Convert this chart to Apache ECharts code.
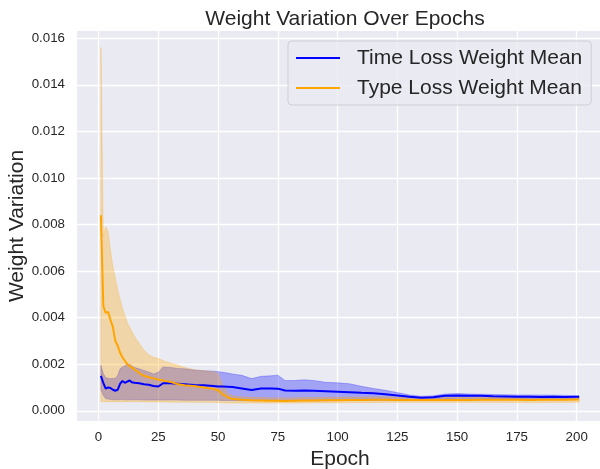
<!DOCTYPE html>
<html>
<head>
<meta charset="utf-8">
<script src="https://cdn.jsdelivr.net/npm/echarts@6/dist/echarts.min.js"></script>
<style>html,body{margin:0;padding:0;background:#fff;}#c{width:600px;height:469px;}</style>
</head>
<body>
<div id="c"></div>
<script>
const epochs = [1,2,3,4,5,6,7,8,9,10,11,12,13,14,15,17,19,21,23,25,27,30,33,36,40,44,48,50,52,54,56,60,64,68,72,75,78,82,86,90,95,100,105,110,115,120,125,130,135,140,145,150,155,160,165,170,175,180,185,190,195,201];

const timeMean = [0.00150,0.00120,0.00095,0.00100,0.00098,0.00090,0.00086,0.00090,0.00115,0.00128,0.00120,0.00125,0.00130,0.00122,0.00120,
0.00118,0.00114,0.00112,0.00106,0.00104,0.00118,
0.00118,0.00116,0.00114,
0.00111,0.00110,0.00106,
0.00104,0.00104,0.00103,0.00102,
0.00096,0.00089,0.00096,0.00096,
0.00095,0.00087,0.00086,0.00087,0.00086,
0.00084,0.00082,0.00080,0.00077,0.00075,0.00071,0.00066,0.00060,0.00056,0.00058,0.00064,0.00065,0.00064,0.00064,0.00062,0.00061,0.00060,0.00060,0.00059,0.00060,0.00059,
0.00060];

const timeUpper = [0.00195,0.00160,0.00142,0.00140,0.00138,0.00138,0.00140,0.00150,0.00180,0.00188,0.00192,0.00198,0.00200,0.00192,0.00186,
0.00180,0.00173,0.00166,0.00158,0.00165,0.00188,
0.00186,0.00182,0.00180,
0.00175,0.00172,0.00170,
0.00168,0.00165,0.00162,0.00158,
0.00152,0.00138,0.00148,0.00150,
0.00153,0.00130,0.00130,0.00133,0.00130,
0.00122,0.00120,0.00116,0.00105,0.00096,0.00088,0.00078,0.00068,0.00062,0.00064,0.00072,0.00074,0.00072,0.00071,0.00070,0.00069,0.00068,0.00068,0.00068,0.00067,0.00066,
0.00064];

const timeLower = [0.00090,0.00065,0.00052,0.00050,0.00048,0.00047,0.00047,0.00047,0.00048,0.00048,0.00047,0.00047,0.00047,0.00047,0.00047,
0.00047,0.00046,0.00046,0.00046,0.00046,0.00046,
0.00046,0.00046,0.00045,
0.00045,0.00045,0.00045,
0.00045,0.00044,0.00044,0.00044,
0.00043,0.00043,0.00043,0.00043,
0.00043,0.00043,0.00043,0.00043,0.00043,
0.00043,0.00044,0.00044,0.00044,0.00044,0.00045,0.00045,0.00046,0.00048,0.00050,0.00052,0.00053,0.00053,0.00053,0.00052,0.00052,0.00052,0.00052,0.00051,0.00052,0.00052,
0.00053];

const typeMean = [0.0084,0.0045,0.0042,0.00425,0.0039,0.0036,0.0030,0.0028,0.0025,0.0023,0.00215,0.0020,0.00192,0.00185,0.00178,
0.00162,0.00150,0.00144,0.00139,0.00134,0.00130,
0.00124,0.00115,0.00110,
0.00106,0.00100,0.00094,
0.00088,0.00070,0.00058,0.00050,
0.00047,0.00045,0.00044,0.00043,
0.00043,0.00042,0.00043,0.00044,0.00044,
0.00045,0.00045,0.00046,0.00046,0.00047,0.00047,0.00046,0.00046,0.00046,0.00046,0.00046,0.00046,0.00046,0.00047,0.00047,0.00047,0.00047,0.00046,0.00047,0.00047,0.00047,
0.00048];

const typeUpper = [0.0156,0.0075,0.0079,0.0077,0.0069,0.0062,0.0057,0.0052,0.0048,0.0044,0.0041,0.0038,0.0036,0.0034,0.0032,
0.0029,0.0026,0.0024,0.0023,0.00225,0.00215,
0.00205,0.00196,0.00186,
0.00176,0.00172,0.00168,
0.00160,0.00110,0.00075,0.00064,
0.00060,0.00058,0.00057,0.00056,
0.00056,0.00055,0.00056,0.00057,0.00057,
0.00058,0.00058,0.00059,0.00059,0.00060,0.00060,0.00059,0.00058,0.00058,0.00058,0.00058,0.00058,0.00058,0.00059,0.00059,0.00059,0.00058,0.00058,0.00058,0.00058,0.00058,
0.00058];

const typeLower = [0.00040,0.00039,0.00039,0.00039,0.00039,0.00039,0.00039,0.00039,0.00039,0.00039,0.00039,0.00039,0.00039,0.00039,0.00039,
0.00039,0.00039,0.00038,0.00038,0.00038,0.00038,
0.00037,0.00037,0.00037,
0.00036,0.00036,0.00036,
0.00035,0.00034,0.00033,0.00033,
0.00033,0.00033,0.00033,0.00033,
0.00033,0.00033,0.00033,0.00033,0.00034,
0.00034,0.00034,0.00035,0.00035,0.00035,0.00036,0.00036,0.00036,0.00036,0.00036,0.00036,0.00036,0.00036,0.00036,0.00036,0.00036,0.00035,0.00035,0.00035,0.00036,0.00036,
0.00036];

const xTicks = [0,25,50,75,100,125,150,175,200];
const yTicks = [0,0.002,0.004,0.006,0.008,0.010,0.012,0.014,0.016];

const FONT = 'Liberation Sans, Arial, Helvetica, sans-serif';
const TXT = '#262626';

const pairs = (ys) => epochs.map((e, i) => [e, ys[i]]);

// band series: one data row per epoch [epoch, lower, upper]; drawn as one polygon through the axes' scales
function bandSeries(name, lower, upper, fill, edge) {
  const rows = epochs.map((e, i) => [e, lower[i], upper[i]]);
  return {
    name: name, type: 'custom', silent: true, z: 2,
    data: [0],
    encode: {x: -1, y: -1},
    renderItem: function (params, api) {
      const top = rows.map(r => api.coord([r[0], r[2]]));
      const bot = rows.map(r => api.coord([r[0], r[1]])).reverse();
      return {
        type: 'polygon',
        shape: {points: top.concat(bot)},
        style: {fill: fill, stroke: edge, lineWidth: 0.8}
      };
    }
  };
}

const chart = echarts.init(document.getElementById('c'), null, {renderer: 'canvas'});
chart.setOption({
  animation: false,
  backgroundColor: '#ffffff',
  textStyle: {fontFamily: FONT},
  title: {
    text: 'Weight Variation Over Epochs',
    left: 340, top: 4, textAlign: 'center',
    textStyle: {fontFamily: FONT, fontSize: 21, fontWeight: 'normal', color: TXT}
  },
  legend: {
    data: ['Time Loss Weight Mean', 'Type Loss Weight Mean'],
    orient: 'vertical',
    left: 288, top: 41,
    icon: 'rect', itemWidth: 44, itemHeight: 2, itemGap: 6,
    padding: [5, 9, 5, 8],
    backgroundColor: 'rgba(234,234,242,0.8)',
    borderColor: '#cfcfd6', borderWidth: 1, borderRadius: 4,
    textStyle: {fontFamily: FONT, fontSize: 21, color: TXT, lineHeight: 24, padding: [0, 0, 0, 12]}
  },
  grid: {
    left: 77, right: -3, top: 31, bottom: 48,
    outerBoundsMode: 'none', containLabel: false,
    show: true, backgroundColor: '#eaeaf2', borderWidth: 0
  },
  xAxis: {
    type: 'value', min: -9, max: 211,
    name: 'Epoch', nameLocation: 'middle', nameGap: 28, nameMoveOverlap: false,
    nameTextStyle: {fontFamily: FONT, fontSize: 21, color: TXT},
    axisLine: {show: false},
    axisTick: {show: false, customValues: xTicks},
    axisLabel: {customValues: xTicks, fontSize: 13.3, color: TXT, margin: 10, fontFamily: FONT},
    splitLine: {show: true, lineStyle: {color: '#ffffff', width: 1.3}}
  },
  yAxis: {
    type: 'value', min: -0.00044, max: 0.01631,
    name: 'Weight Variation', nameLocation: 'middle', nameGap: 49, nameMoveOverlap: false,
    nameTextStyle: {fontFamily: FONT, fontSize: 21, color: TXT},
    axisLine: {show: false},
    axisTick: {show: false, customValues: yTicks},
    axisLabel: {customValues: yTicks, fontSize: 13.3, color: TXT, margin: 12, fontFamily: FONT,
      formatter: v => v.toFixed(3)},
    splitLine: {show: true, lineStyle: {color: '#ffffff', width: 1.3}}
  },
  series: [
    bandSeries('timeBand', timeLower, timeUpper, 'rgba(0,0,255,0.3)', 'rgba(0,0,255,0.3)'),
    bandSeries('typeBand', typeLower, typeUpper, 'rgba(255,165,0,0.3)', 'rgba(255,165,0,0.3)'),
    {name: 'Time Loss Weight Mean', type: 'line', data: pairs(timeMean), symbol: 'none',
     itemStyle: {color: '#0000ff'}, lineStyle: {color: '#0000ff', width: 2}, z: 4},
    {name: 'Type Loss Weight Mean', type: 'line', data: pairs(typeMean), symbol: 'none',
     itemStyle: {color: '#ffa500'}, lineStyle: {color: '#ffa500', width: 2}, z: 4}
  ]
});
</script>
</body>
</html>
